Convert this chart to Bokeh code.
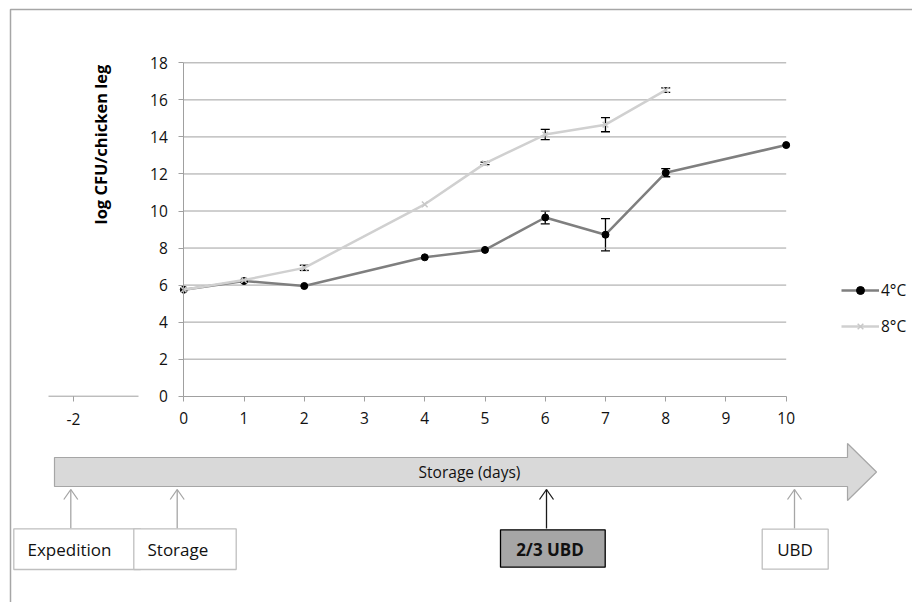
import math
from bokeh.plotting import figure
from bokeh.models import (Range1d, LinearAxis, FixedTicker, ColumnDataSource,
                          Whisker, TeeHead, Legend, LegendItem)
from bokeh.core.properties import value
from bokeh.embed import file_html
from bokeh.resources import INLINE

# ---------------- data ----------------
DAY_TICKS = [0, 1, 2, 3, 4, 5, 6, 7, 8, 9, 10]
Y_TICKS = [0, 2, 4, 6, 8, 10, 12, 14, 16, 18]

DAYS_4C = [0, 1, 2, 4, 5, 6, 7, 8, 10]
LOG_CFU_4C = [5.75, 6.22, 5.95, 7.50, 7.90, 9.65, 8.72, 12.07, 13.56]
ERR_4C = [0, 0, 0, 0, 0, 0.34, 0.87, 0.22, 0]

DAYS_8C = [0, 1, 2, 4, 5, 6, 7, 8]
LOG_CFU_8C = [5.75, 6.27, 6.93, 10.36, 12.57, 14.13, 14.66, 16.53]
ERR_8C = [0, 0, 0.14, 0, 0.07, 0.28, 0.38, 0.12]

SERIES_LABELS = ["4°C", "8°C"]
Y_LABEL = "log CFU/chicken leg"
PRE_TICK_LABEL = "-2"
TIMELINE_LABEL = "Storage (days)"
EVENT_LABELS = ["Expedition", "Storage", "2/3 UBD", "UBD"]

# ---------------- layout (page pixels) ----------------
W, H = 912, 602
X0_PX, SX = 183.3, 60.24      # page x of day 0, pixels per day
Y0_PX, SY = 395.7, 18.52      # page y of value 0, pixels per log unit
FONT = "Open Sans"
GRID = "#a0a0a0"
TXT = "#111111"


def dx(px):
    return (px - X0_PX) / SX


def dy(py):
    return (Y0_PX - py) / SY


p = figure(width=W, height=H, output_backend="svg", toolbar_location=None,
           x_range=Range1d(dx(0), dx(W)),
           y_range=Range1d(dy(H), dy(0)),
           x_axis_location=None, y_axis_location=None,
           min_border=0, outline_line_color=None)
p.grid.visible = False
p.background_fill_color = "white"
p.border_fill_color = "white"

# outer frame (top and left edges visible)
p.line([dx(W), dx(10), dx(10)], [dy(9), dy(9), dy(H)],
       line_color="#a6a6a6", line_width=1.5)

# horizontal gridlines from day 0 to day 10
gy = Y_TICKS[1:]
p.segment(x0=[DAY_TICKS[0]] * len(gy), x1=[DAY_TICKS[-1]] * len(gy),
          y0=gy, y1=gy, line_color=GRID, line_width=1)

# axes
yaxis = LinearAxis(fixed_location=0, bounds=(Y_TICKS[0], Y_TICKS[-1]),
                   ticker=FixedTicker(ticks=Y_TICKS))
xaxis = LinearAxis(fixed_location=0, bounds=(DAY_TICKS[0], DAY_TICKS[-1]),
                   ticker=FixedTicker(ticks=DAY_TICKS))
for ax in (xaxis, yaxis):
    ax.axis_line_color = GRID
    ax.axis_line_width = 1
    ax.major_tick_line_color = GRID
    ax.major_tick_out = 5
    ax.major_tick_in = 0
    ax.minor_tick_out = 0
    ax.minor_tick_in = 0
    ax.major_label_text_font = FONT
    ax.major_label_text_font_size = "15.5px"
    ax.major_label_text_color = TXT
    ax.major_label_standoff = 11
p.add_layout(yaxis, "left")
p.add_layout(xaxis, "below")

# extra piece of axis with the "-2" tick
p.segment(x0=[dx(48)], x1=[dx(138)], y0=[0], y1=[0], line_color=GRID, line_width=1)
p.segment(x0=[dx(73)], x1=[dx(73)], y0=[0], y1=[dy(401)], line_color=GRID, line_width=1)
p.text(x=[dx(73)], y=[dy(418.5)], text=[PRE_TICK_LABEL], text_align="center",
       text_baseline="middle", text_font=value(FONT), text_font_size="15.5px",
       text_color=TXT)

# y axis title
p.text(x=[dx(99.5)], y=[dy(144)], text=[Y_LABEL], angle=math.pi / 2,
       text_align="center", text_baseline="middle", text_font=value(FONT),
       text_font_style="bold", text_font_size="16.5px", text_color="#000000")

# series
l4 = p.line(DAYS_4C, LOG_CFU_4C, line_color="#7f7f7f", line_width=2.5)
s4 = p.scatter(DAYS_4C, LOG_CFU_4C, marker="circle", size=7,
               fill_color="black", line_color="black")


def whisker_source(days, vals, errs):
    d = [(x, v - e, v + e) for x, v, e in zip(days, vals, errs) if e > 0]
    return ColumnDataSource(dict(x=[a[0] for a in d], lower=[a[1] for a in d],
                                 upper=[a[2] for a in d]))


def add_whiskers(src):
    p.add_layout(Whisker(source=src, base="x", lower="lower", upper="upper",
                         line_color="black", line_width=1.3,
                         upper_head=TeeHead(size=9, line_color="black", line_width=1.3),
                         lower_head=TeeHead(size=9, line_color="black", line_width=1.3)))


add_whiskers(whisker_source(DAYS_4C, LOG_CFU_4C, ERR_4C))

l8 = p.line(DAYS_8C, LOG_CFU_8C, line_color="#d0d0d0", line_width=2.5)
s8 = p.scatter(DAYS_8C, LOG_CFU_8C, marker="x", size=8, line_color="#c8c8c8",
               line_width=1.5)
add_whiskers(whisker_source(DAYS_8C, LOG_CFU_8C, ERR_8C))

legend = Legend(items=[LegendItem(label=SERIES_LABELS[0], renderers=[l4, s4]),
                       LegendItem(label=SERIES_LABELS[1], renderers=[l8, s8])],
                location=(841, H - 283.3 - 54),
                glyph_width=38, glyph_height=20, label_height=20, spacing=14,
                label_standoff=2, padding=0, margin=0,
                border_line_color=None, background_fill_alpha=0,
                label_text_font=FONT, label_text_font_size="15.5px",
                label_text_color=TXT)
p.add_layout(legend)

# ---------------- timeline block arrow ----------------
ARROW_PX = [(54, 457), (847, 457), (847, 443), (876, 471.5),
            (847, 500), (847, 486), (54, 486)]
p.patch([dx(a) for a, _ in ARROW_PX], [dy(b) for _, b in ARROW_PX],
        fill_color="#d9d9d9", line_color="#a6a6a6", line_width=1.2)
p.text(x=[dx(469)], y=[dy(471)], text=[TIMELINE_LABEL], text_align="center",
       text_baseline="middle", text_font=value(FONT), text_font_size="15.5px",
       text_color=TXT)

# event pointers
EVENT_X = [70.3, 176.7, 546, 794]
EVENT_COLORS = ["#a6a6a6", "#a6a6a6", "#1a1a1a", "#a6a6a6"]
for ex, col in zip(EVENT_X, EVENT_COLORS):
    p.line([dx(ex), dx(ex)], [dy(528), dy(489)], line_color=col, line_width=1.3)
    p.line([dx(ex - 7), dx(ex), dx(ex + 7)], [dy(499), dy(489), dy(499)],
           line_color=col, line_width=1.3)

BOXES = [(13.3, 140, 528.3, 569), (133.3, 235.7, 528.3, 569),
         (500, 604.7, 529.3, 566.7), (761.7, 827.7, 528.7, 568.7)]
BOX_FILL = ["white", "white", "#a6a6a6", "white"]
BOX_LINE = ["#bfbfbf", "#bfbfbf", "#000000", "#bfbfbf"]
for (l, r, t, b), fc, lc in zip(BOXES, BOX_FILL, BOX_LINE):
    p.quad(left=[dx(l)], right=[dx(r)], top=[dy(t)], bottom=[dy(b)],
           fill_color=fc, line_color=lc, line_width=1.3)

p.text(x=[dx(27)], y=[dy(549)], text=[EVENT_LABELS[0]], text_align="left",
       text_baseline="middle", text_font=value(FONT), text_font_size="17px",
       text_color=TXT)
p.text(x=[dx(147)], y=[dy(549)], text=[EVENT_LABELS[1]], text_align="left",
       text_baseline="middle", text_font=value(FONT), text_font_size="17px",
       text_color=TXT)
p.text(x=[dx(549.5)], y=[dy(549)], text=[EVENT_LABELS[2]], text_align="center",
       text_baseline="middle", text_font=value(FONT), text_font_style="bold",
       text_font_size="17px", text_color=TXT)
p.text(x=[dx(794.5)], y=[dy(549)], text=[EVENT_LABELS[3]], text_align="center",
       text_baseline="middle", text_font=value(FONT), text_font_size="17px",
       text_color=TXT)

open("out.html", "w").write(file_html(p, INLINE))
